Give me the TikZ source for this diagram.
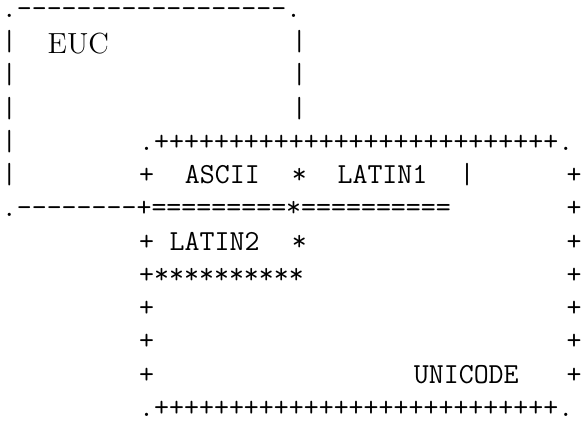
\documentclass[tikz,border=0pt]{standalone}
\usepackage{fontspec}
\usepackage{tikz}

\begin{document}
\begin{tikzpicture}[x=7.63pt,y=-16.625pt,
	txt/.style={anchor=base west,inner sep=0pt,outer sep=0pt,font=\fontsize{14.53}{17}\selectfont\ttfamily},
	lbl/.style={txt,font=\fontsize{14.53}{17}\selectfont\rmfamily}]
	
	\useasboundingbox (-0.935pt,8.75pt) rectangle (290.065pt,-201.75pt);
	
	\node[txt] (euctop)  at (0, 0)  {.------------------.};
	\node[txt] (eucla)   at (0, 1)  {|};
	\node[lbl] (euc)     at (3, 1.08) {EUC};
	\node[txt] (eucra)   at (19, 1) {|};
	\node[txt] (euclb)   at (0, 2)  {|};
	\node[txt] (eucrb)   at (19, 2) {|};
	\node[txt] (euclc)   at (0, 3)  {|};
	\node[txt] (eucrc)   at (19, 3) {|};
	\node[txt] (eucld)   at (0, 4)  {|};
	\node[txt] (unitop)  at (9, 4)  {.+++++++++++++++++++++++++++.};
	\node[txt] (eucle)   at (0, 5)  {|};
	\node[txt] (unila)   at (9, 5)  {+};
	\node[txt] (ascii)   at (12, 5) {ASCII};
	\node[txt] (stara)   at (19, 5) {*};
	\node[txt] (latina)  at (22, 5) {LATIN1};
	\node[txt] (latbar)  at (30, 5) {|};
	\node[txt] (unira)   at (37, 5) {+};
	\node[txt] (eucbot)  at (0, 6)  {.--------+=========*==========};
	\node[txt] (unirb)   at (37, 6) {+};
	\node[txt] (unilc)   at (9, 7)  {+};
	\node[txt] (latinb)  at (11, 7) {LATIN2};
	\node[txt] (starb)   at (19, 7) {*};
	\node[txt] (unirc)   at (37, 7) {+};
	\node[txt] (latbot)  at (9, 8)  {+**********};
	\node[txt] (unird)   at (37, 8) {+};
	\node[txt] (unile)   at (9, 9)  {+};
	\node[txt] (unire)   at (37, 9) {+};
	\node[txt] (unilf)   at (9, 10)  {+};
	\node[txt] (unirf)   at (37, 10) {+};
	\node[txt] (unilg)   at (9, 11)  {+};
	\node[txt] (unicode) at (27, 11) {UNICODE};
	\node[txt] (unirg)   at (37, 11) {+};
	\node[txt] (unibot)  at (9, 12)  {.+++++++++++++++++++++++++++.};
	\end{tikzpicture}
\end{document}
